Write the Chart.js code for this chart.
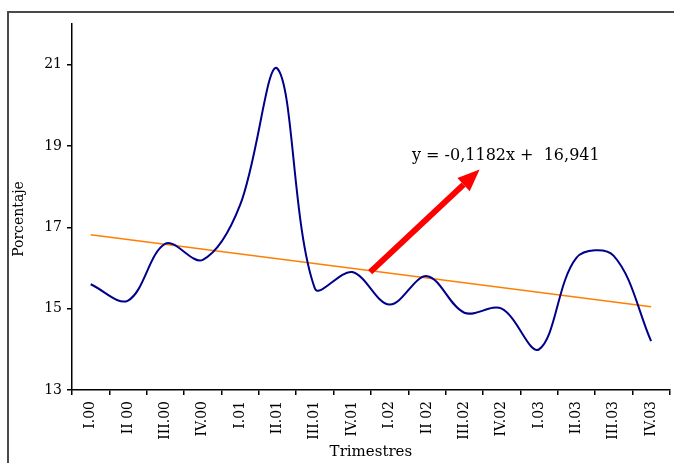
<!DOCTYPE html>
<html lang="es">
<head>
<meta charset="UTF-8">
<title>Porcentaje por trimestre</title>
<script src="https://cdn.jsdelivr.net/npm/chart.js"></script>
<style>
    html, body { margin: 0; padding: 0; background: #fff; }
    .chart-box { width: 674px; height: 463px; }
</style>
</head>
<body>

<div class="chart-box">
    <canvas id="trimChart"></canvas>
</div>

<script>
    // Datos
    const trimestres = ['I.00', 'II 00', 'III.00', 'IV.00', 'I.01', 'II.01', 'III.01', 'IV.01',
                        'I.02', 'II 02', 'III.02', 'IV.02', 'I.03', 'II.03', 'III.03', 'IV.03'];
    const porcentaje = [15.6, 15.2, 16.6, 16.2, 17.55, 20.9, 15.5, 15.9,
                        15.1, 15.8, 14.9, 15.0, 14.0, 16.25, 16.3, 14.2];
    // linea de tendencia: solo los extremos, el resto se une en recta
    const tendencia = [16.82, null, null, null, null, null, null, null,
                       null, null, null, null, null, null, null, 15.05];
    const yTicks = [13, 15, 17, 19, 21];
    const ecuacion = 'y = -0,1182x +  16,941';

    const serif = "'DejaVu Serif', 'Liberation Serif', serif";

    // marco, titulo Y, flecha y ecuacion
    const extras = {
        id: 'extras',
        beforeDraw(chart) {
            const ctx = chart.ctx;
            ctx.save();
            ctx.strokeStyle = '#4a4a4a';
            ctx.lineWidth = 2;
            ctx.strokeRect(8, 12, 700, 500);

            ctx.translate(19, 219);
            ctx.rotate(-Math.PI / 2);
            ctx.fillStyle = '#000';
            ctx.font = '14px ' + serif;
            ctx.textAlign = 'center';
            ctx.textBaseline = 'middle';
            ctx.fillText('Porcentaje', 0, 0);
            ctx.restore();
        },
        afterDatasetsDraw(chart) {
            const ctx = chart.ctx;
            const x = chart.scales.x, y = chart.scales.y;
            const x0 = x.getPixelForValue(7.48), y0 = y.getPixelForValue(15.9);
            const x1 = x.getPixelForValue(10.41), y1 = y.getPixelForValue(18.42);
            const ang = Math.atan2(y1 - y0, x1 - x0);
            const head = 22, half = 9;
            const bx = x1 - head * Math.cos(ang), by = y1 - head * Math.sin(ang);

            ctx.save();
            ctx.strokeStyle = '#ff0000';
            ctx.fillStyle = '#ff0000';
            ctx.lineWidth = 6;
            ctx.beginPath();
            ctx.moveTo(x0, y0);
            ctx.lineTo(bx, by);
            ctx.stroke();
            ctx.beginPath();
            ctx.moveTo(x1, y1);
            ctx.lineTo(bx + half * Math.sin(ang), by - half * Math.cos(ang));
            ctx.lineTo(bx - half * Math.sin(ang), by + half * Math.cos(ang));
            ctx.closePath();
            ctx.fill();

            ctx.fillStyle = '#000';
            ctx.font = '16px ' + serif;
            ctx.textAlign = 'left';
            ctx.textBaseline = 'middle';
            ctx.fillText(ecuacion, x.getPixelForValue(8.6), y.getPixelForValue(18.76));
            ctx.restore();
        }
    };

    const ctx = document.getElementById('trimChart').getContext('2d');
    const trimChart = new Chart(ctx, {
        type: 'line',
        data: {
            labels: trimestres,
            datasets: [{
                label: 'Porcentaje',
                data: porcentaje,
                borderColor: '#00008b',
                borderWidth: 2,
                pointRadius: 0,
                tension: 0.35,
                fill: false
            }, {
                label: 'Tendencia',
                data: tendencia,
                borderColor: '#ff7f00',
                borderWidth: 1.5,
                pointRadius: 0,
                spanGaps: true,
                tension: 0,
                fill: false
            }]
        },
        options: {
            responsive: true,
            maintainAspectRatio: false,
            animation: false,
            layout: { padding: { left: 8, top: 24, right: 3, bottom: 0 } },
            plugins: {
                legend: { display: false },
                tooltip: { enabled: false }
            },
            scales: {
                x: {
                    offset: true,
                    grid: { drawOnChartArea: false, tickLength: 5, offset: true, color: '#000', lineWidth: 1.5 },
                    border: { color: '#000', width: 1.5 },
                    ticks: {
                        autoSkip: false, minRotation: 90, maxRotation: 90, padding: 6,
                        color: '#000', font: { family: serif, size: 14 }
                    },
                    title: {
                        display: true, text: 'Trimestres', color: '#000',
                        font: { family: serif, size: 15 }, padding: { top: 0, bottom: 2 }
                    },
                    afterFit(scale) { scale.height = 73; }
                },
                y: {
                    min: 13,
                    max: 22,
                    afterBuildTicks(scale) { scale.ticks = yTicks.map(v => ({ value: v })); },
                    grid: { drawOnChartArea: false, tickLength: 5, color: '#000', lineWidth: 1.5 },
                    border: { color: '#000', width: 1.5 },
                    ticks: { padding: 5, color: '#000', font: { family: serif, size: 14 } },
                    title: { display: false },
                    afterFit(scale) { scale.width = 64; }
                }
            }
        },
        plugins: [extras]
    });
</script>

</body>
</html>
